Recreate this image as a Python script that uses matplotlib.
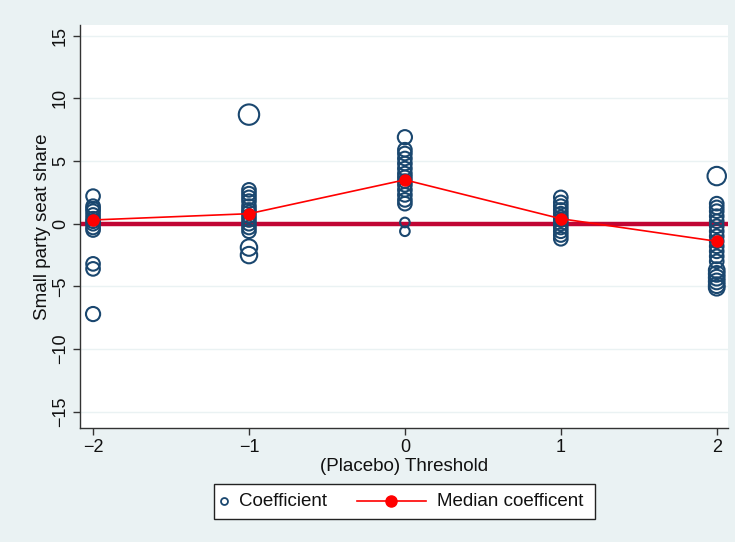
import numpy as np
import matplotlib.pyplot as plt
from matplotlib.lines import Line2D
from matplotlib.patches import Rectangle

plt.rcParams["font.family"] = ["Liberation Sans", "DejaVu Sans"]

# -------- placebo threshold estimates --------
thresholds = [-2, -1, 0, 1, 2]

coef_m2 = [2.2, 1.4, 1.2, 1.0, 0.7, 0.4, 0.2, 0.0, -0.3, -0.5, -3.2, -3.6, -7.2]
coef_m1 = [8.7, 2.7, 2.4, 2.1, 1.8, 1.4, 1.1, 0.9, 0.6, 0.3, 0.0, -0.3, -0.6, -1.9, -2.5]
coef_0  = [6.9, 5.9, 5.6, 5.2, 4.8, 4.4, 4.0, 3.7, 3.4, 3.1, 2.7, 2.3, 1.9, 1.6, 0.1, -0.6]
coef_p1 = [2.1, 1.7, 1.4, 1.1, 0.8, 0.5, 0.3, 0.0, -0.3, -0.6, -0.9, -1.2]
coef_p2 = [3.8, 1.6, 1.3, 1.0, 0.6, 0.2, -0.2, -0.6, -1.0, -1.4, -1.8, -2.2, -2.6,
           -3.0, -3.7, -4.0, -4.3, -4.6, -4.9, -5.1]

# analytic weights (marker area scales with these)
wt_m2 = [2.4] * 12 + [2.6]
wt_m1 = [5.4] + [2.4] * 12 + [3.5, 3.5]
wt_0  = [2.6] + [2.4] * 13 + [1.2, 1.2]
wt_p1 = [2.4] * 12
wt_p2 = [4.4] + [2.4] * 13 + [3.2] * 6

medians = [0.3, 0.8, 3.5, 0.4, -1.4]

coefs = [coef_m2, coef_m1, coef_0, coef_p1, coef_p2]
wts = [wt_m2, wt_m1, wt_0, wt_p1, wt_p2]

NAVY = "#1A476F"
BG = "#EAF2F3"

fig = plt.figure(figsize=(7.35, 5.42), dpi=100, facecolor=BG)
ax = fig.add_axes([0.109, 0.210, 0.881, 0.744])
ax.set_facecolor("white")

for y in [-15, -10, -5, 5, 10, 15]:
    ax.axhline(y, color=BG, lw=1.0, zorder=0)

ax.axhline(0, color="#C10534", lw=3.2, zorder=1)

for x, c, w in zip(thresholds, coefs, wts):
    ax.scatter([x] * len(c), c, s=np.array(w) * 40, facecolors="none",
               edgecolors=NAVY, linewidths=1.5, zorder=2)

ax.plot(thresholds, medians, color="red", lw=1.2, marker="o", markersize=8,
        zorder=3)

ax.set_xlim(-2.083, 2.07)
ax.set_ylim(-16.3, 15.85)
ax.set_xticks(thresholds)
ax.set_xticklabels(["\u22122", "\u22121", "0", "1", "2"])
ax.set_yticks([-15, -10, -5, 0, 5, 10, 15])
ax.set_yticklabels(["\u221215", "\u221210", "\u22125", "0", "5", "10", "15"],
                   rotation=90, va="center")
ax.tick_params(axis="both", labelsize=13, length=5, width=1.0, color="#333333",
               labelcolor="#111111")
ax.tick_params(axis="x", pad=3)
ax.tick_params(axis="y", pad=3)

for side in ["top", "right"]:
    ax.spines[side].set_visible(False)
for side in ["left", "bottom"]:
    ax.spines[side].set_color("#333333")
    ax.spines[side].set_linewidth(1.0)

ax.set_xlabel("(Placebo) Threshold", fontsize=13.5, labelpad=1, color="#111111")
ax.set_ylabel("Small party seat share", fontsize=13.5, labelpad=1, color="#111111")

# -------- legend box, laid out by hand --------
ly = 0.0756
fig.add_artist(Rectangle((0.291, 0.043), 0.519, 0.064, transform=fig.transFigure,
                         facecolor="white", edgecolor="#222222", lw=1.0))
fig.add_artist(Line2D([0.305], [ly], transform=fig.transFigure, ls="none",
                      marker="o", markersize=5, markerfacecolor="none",
                      markeredgecolor=NAVY, markeredgewidth=1.3))
fig.text(0.325, ly, "Coefficient", fontsize=13.5, va="center", ha="left",
         color="#111111")
fig.add_artist(Line2D([0.486, 0.580], [ly, ly], transform=fig.transFigure,
                      color="red", lw=1.2))
fig.add_artist(Line2D([0.532], [ly], transform=fig.transFigure, ls="none",
                      marker="o", markersize=8, color="red"))
fig.text(0.595, ly, "Median coefficent", fontsize=13.5, va="center", ha="left",
         color="#111111")

fig.savefig("out.png", dpi=100, facecolor=BG)
